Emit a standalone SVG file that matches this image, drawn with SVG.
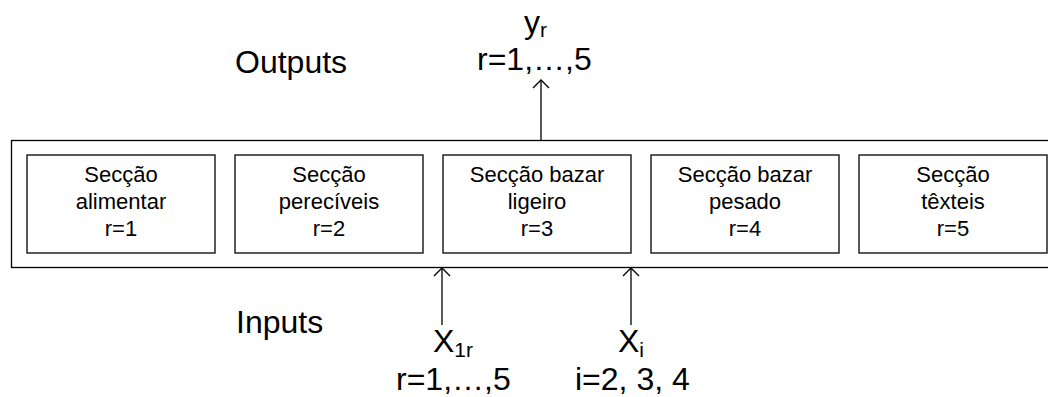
<svg xmlns="http://www.w3.org/2000/svg" width="1048" height="397" viewBox="0 0 1048 397">
<style>
text{font-family:"Liberation Sans",Arial,sans-serif;fill:#000}
.bt{font-size:22px;text-anchor:middle}
.lt{font-size:32px}
.sub{font-size:21px}
.box{fill:#fff;stroke:#000;stroke-width:1.3}
.ln{stroke:#000;stroke-width:1.3;fill:none}
</style>
<defs>
<marker id="ah" viewBox="0 0 20 20" refX="19" refY="10" markerWidth="20" markerHeight="20" markerUnits="userSpaceOnUse" orient="auto">
<path d="M11,2 L19,10 L11,18" fill="none" stroke="#000" stroke-width="1.3"/>
</marker>
</defs>
<g id="outer"><rect class="box" x="11.5" y="140.5" width="1052" height="127"/></g>
<g id="box1"><rect class="box" x="27" y="155" width="188" height="98"/>
<text class="bt" x="121" y="182">Secção</text><text class="bt" x="121" y="209">alimentar</text><text class="bt" x="121" y="236">r=1</text></g>
<g id="box2"><rect class="box" x="235" y="155" width="188" height="98"/>
<text class="bt" x="329" y="182">Secção</text><text class="bt" x="329" y="209">perecíveis</text><text class="bt" x="329" y="236">r=2</text></g>
<g id="box3"><rect class="box" x="443" y="155" width="188" height="98"/>
<text class="bt" x="537" y="182">Secção bazar</text><text class="bt" x="537" y="209">ligeiro</text><text class="bt" x="537" y="236">r=3</text></g>
<g id="box4"><rect class="box" x="651" y="155" width="188" height="98"/>
<text class="bt" x="745" y="182">Secção bazar</text><text class="bt" x="745" y="209">pesado</text><text class="bt" x="745" y="236">r=4</text></g>
<g id="box5"><rect class="box" x="859" y="155" width="188" height="98"/>
<text class="bt" x="953" y="182">Secção</text><text class="bt" x="953" y="209">têxteis</text><text class="bt" x="953" y="236">r=5</text></g>
<g id="connectors">
<line class="ln" x1="541" y1="140" x2="541" y2="80" marker-end="url(#ah)"/>
<line class="ln" x1="442" y1="325" x2="442" y2="268" marker-end="url(#ah)"/>
<line class="ln" x1="631" y1="325" x2="631" y2="268" marker-end="url(#ah)"/>
</g>
<g id="labels">
<text class="lt" x="235" y="73">Outputs</text>
<text class="lt" x="524" y="33">y<tspan class="sub" dy="4">r</tspan></text>
<text class="lt" x="477" y="70">r=1,…,5</text>
<text class="lt" x="236" y="333">Inputs</text>
<text class="lt" x="433" y="352">X<tspan class="sub" dy="5">1r</tspan></text>
<text class="lt" x="396" y="390">r=1,…,5</text>
<text class="lt" x="618" y="352">X<tspan class="sub" dy="5">i</tspan></text>
<text class="lt" x="575" y="390">i=2, 3, 4</text>
</g>
</svg>
